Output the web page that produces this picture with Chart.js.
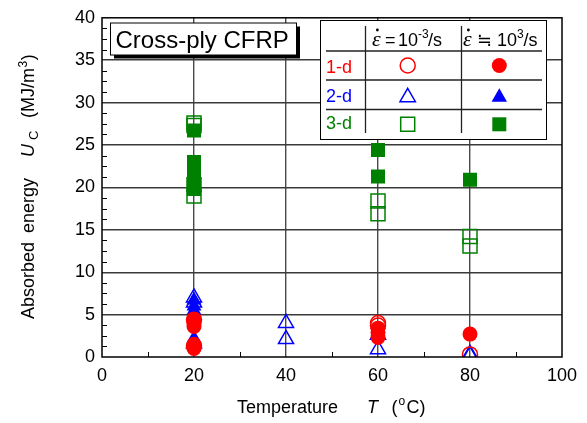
<!DOCTYPE html>
<html><head><meta charset="utf-8">
<style>html,body{margin:0;padding:0;background:#fff}#wrap{width:587px;height:423px}</style>
<script src="https://cdn.jsdelivr.net/npm/chart.js@4.4.1/dist/chart.umd.min.js"></script>
</head><body><div id="wrap"><canvas id="c" width="587" height="423"></canvas></div>
<script>
// ---- data (Temperature T in °C, absorbed energy U_C in MJ/m^3) ----
const xTickLabels = [0, 20, 40, 60, 80, 100];
const yTickLabels = [0, 5, 10, 15, 20, 25, 30, 35, 40];

const oneD_quasi_T = [20, 20, 60, 60, 80];
const oneD_quasi_U = [4.4, 1.3, 4.0, 3.7, 0.3];
const oneD_dyn_T = [20, 20, 20, 20, 20, 60, 60, 60, 80];
const oneD_dyn_U = [4.4, 4.0, 3.6, 1.5, 1.0, 3.4, 2.9, 2.3, 2.7];

const twoD_quasi_T = [20, 20, 20, 40, 40, 60, 60, 80, 80];
const twoD_quasi_U = [7.0, 6.4, 1.6, 4.0, 2.1, 2.6, 0.9, 0.2, 0.35];
const twoD_dyn_T = [20, 20, 20, 20, 20];
const twoD_dyn_U = [6.7, 6.0, 5.5, 5.0, 2.2];

const threeD_quasi_T = [20, 20, 20, 20, 60, 60, 80, 80];
const threeD_quasi_U = [27.6, 27.3, 19.0, 20.3, 18.4, 16.9, 14.2, 13.1];
const threeD_dyn_T = [20, 20, 20, 20, 20, 20, 60, 60, 80];
const threeD_dyn_U = [26.7, 23.0, 22.4, 21.6, 20.8, 19.8, 24.4, 21.3, 20.9];

const xMinor = [10, 30, 50, 70, 90];

const RED = '#ff0000', BLUE = '#0000ff', GREEN = '#008000';
const SANS = "'Liberation Sans', Arial, sans-serif";
const SERIF = "'Liberation Serif', 'DejaVu Serif', serif";

const pts = (T, U) => T.map((t, i) => ({x: t, y: U[i]}));

function ds(T, U, color, style, radius, filled) {
  return {
    data: pts(T, U),
    pointStyle: style,
    pointRadius: radius,
    pointHoverRadius: radius,
    pointBorderWidth: filled ? 0 : 1.5,
    borderColor: color,
    backgroundColor: filled ? color : 'rgba(0,0,0,0)',
    clip: 0
  };
}

// ---- marker drawing for the table legend ----
function mark(ctx, style, x, y, color, filled) {
  ctx.save();
  ctx.beginPath();
  if (style === 'circle') {
    ctx.arc(x, y, 7.5, 0, Math.PI * 2);
  } else if (style === 'triangle') {
    const r = 8.9;
    ctx.moveTo(x, y - r);
    ctx.lineTo(x + r * Math.sqrt(3) / 2, y + r / 2);
    ctx.lineTo(x - r * Math.sqrt(3) / 2, y + r / 2);
    ctx.closePath();
  } else {
    ctx.rect(x - 7, y - 7, 14, 14);
  }
  if (filled) { ctx.fillStyle = color; ctx.fill(); }
  else { ctx.strokeStyle = color; ctx.lineWidth = 1.5; ctx.stroke(); }
  ctx.restore();
}

function epsDot(ctx, x, base) {
  ctx.font = "italic 22px " + SERIF;
  ctx.fillText('\u03b5', x, base);
  const w = ctx.measureText('\u03b5').width;
  ctx.beginPath();
  ctx.arc(x + w * 0.62, base - 16, 1.4, 0, Math.PI * 2);
  ctx.fill();
}

const decor = {
  id: 'decor',
  afterDraw(chart) {
    const {ctx, chartArea: a, scales: {x, y}} = chart;
    ctx.save();
    // minor ticks
    ctx.strokeStyle = '#000'; ctx.lineWidth = 1;
    xMinor.forEach(v => {
      const px = Math.round(x.getPixelForValue(v)) + 0.5;
      ctx.beginPath(); ctx.moveTo(px, a.bottom); ctx.lineTo(px, a.bottom - 5); ctx.stroke();
    });
    for (let v = 1.25; v < 40; v += 1.25) {
      if (Math.abs(v % 5) < 1e-6) continue;
      const py = Math.round(y.getPixelForValue(v)) + 0.5;
      ctx.beginPath(); ctx.moveTo(a.left, py); ctx.lineTo(a.left + 5, py); ctx.stroke();
    }
    // frame
    ctx.lineWidth = 1.5; ctx.strokeStyle = '#000';
    ctx.strokeRect(a.left, a.top, a.right - a.left, a.bottom - a.top);

    // title box with shadow
    ctx.fillStyle = '#000';
    ctx.fillRect(114, 26.5, 186, 32);
    ctx.fillStyle = '#fff';
    ctx.fillRect(110.5, 23, 186, 32);
    ctx.lineWidth = 1; ctx.strokeStyle = '#000';
    ctx.strokeRect(110.5, 23, 186, 32);
    ctx.fillStyle = '#000';
    ctx.font = "24px " + SANS;
    ctx.textBaseline = 'alphabetic';
    ctx.fillText('Cross-ply CFRP', 115.5, 48);

    // table legend
    ctx.fillStyle = '#fff';
    ctx.fillRect(320.5, 20.5, 226, 119);
    ctx.lineWidth = 1; ctx.strokeStyle = '#000';
    ctx.strokeRect(320.5, 20.5, 226, 119);
    ctx.lineWidth = 1.3; ctx.strokeStyle = '#222';
    [51, 80, 109.5].forEach(ly => {
      ctx.beginPath(); ctx.moveTo(326, ly); ctx.lineTo(542, ly); ctx.stroke();
    });
    [365.5, 461.5].forEach(lx => {
      ctx.beginPath(); ctx.moveTo(lx, 26); ctx.lineTo(lx, 133); ctx.stroke();
    });
    // header
    ctx.fillStyle = '#000';
    epsDot(ctx, 372, 46);
    ctx.font = "18px " + SANS;
    ctx.fillText('=', 385, 46);
    ctx.fillText('10', 398, 46);
    ctx.font = "12px " + SANS;
    ctx.fillText('-3', 418, 38);
    ctx.font = "18px " + SANS;
    ctx.fillText('/s', 428, 46);
    epsDot(ctx, 463, 46);
    ctx.font = "18px 'DejaVu Sans', " + SANS;
    ctx.fillText('\u2252', 477, 46);
    ctx.font = "18px " + SANS;
    ctx.fillText('10', 497, 46);
    ctx.font = "12px " + SANS;
    ctx.fillText('3', 517, 38);
    ctx.font = "18px " + SANS;
    ctx.fillText('/s', 523.5, 46);
    // rows
    ctx.font = "18px " + SANS;
    ctx.fillStyle = RED; ctx.fillText('1-d', 326, 73);
    ctx.fillStyle = BLUE; ctx.fillText('2-d', 326, 101.5);
    ctx.fillStyle = GREEN; ctx.fillText('3-d', 326, 128.5);
    mark(ctx, 'circle', 407.7, 65.5, RED, false);
    mark(ctx, 'circle', 499.3, 65.5, RED, true);
    mark(ctx, 'triangle', 407.7, 97.2, BLUE, false);
    mark(ctx, 'triangle', 499.3, 97.2, BLUE, true);
    mark(ctx, 'rect', 407.7, 124.3, GREEN, false);
    mark(ctx, 'rect', 499.3, 124.3, GREEN, true);

    // x axis title
    ctx.fillStyle = '#000';
    ctx.font = "18px " + SANS;
    ctx.fillText('Temperature', 237, 413);
    ctx.font = "italic 18px " + SANS;
    ctx.fillText('T', 367, 413);
    ctx.font = "18px " + SANS;
    ctx.fillText('(', 391.5, 413);
    ctx.font = "12px " + SANS;
    ctx.fillText('o', 398.5, 405);
    ctx.font = "18px " + SANS;
    ctx.fillText('C)', 406.5, 413);

    // y axis title (rotated)
    ctx.save();
    ctx.translate(34, 0);
    ctx.rotate(-Math.PI / 2);
    ctx.font = "18px " + SANS;
    ctx.fillText('Absorbed', -319, 0);
    ctx.fillText('energy', -233, 0);
    ctx.font = "italic 18px " + SANS;
    ctx.fillText('U', -157, 0);
    ctx.font = "13px " + SANS;
    ctx.fillText('C', -140, 4);
    ctx.font = "18px " + SANS;
    ctx.fillText('(MJ/m', -118, 0);
    const wm = ctx.measureText('(MJ/m').width;
    ctx.font = "12px " + SANS;
    ctx.fillText('3', -118 + wm + 0.5, -7);
    const w3 = ctx.measureText('3').width;
    ctx.font = "18px " + SANS;
    ctx.fillText(')', -118 + wm + w3 + 1, 0);
    ctx.restore();

    ctx.restore();
  }
};

new Chart(document.getElementById('c'), {
  type: 'scatter',
  data: {
    datasets: [
      ds(threeD_dyn_T, threeD_dyn_U, GREEN, 'rect', 9.9, true),
      ds(threeD_quasi_T, threeD_quasi_U, GREEN, 'rect', 9.9, false),
      ds(oneD_dyn_T, oneD_dyn_U, RED, 'circle', 7.5, true),
      ds(oneD_quasi_T, oneD_quasi_U, RED, 'circle', 7.5, false),
      ds(twoD_dyn_T, twoD_dyn_U, BLUE, 'triangle', 8.7, true),
      ds(twoD_quasi_T, twoD_quasi_U, BLUE, 'triangle', 8.7, false)
    ]
  },
  options: {
    responsive: false,
    devicePixelRatio: 1,
    animation: false,
    events: [],
    layout: {padding: {top: 14.5, right: 25, left: 0, bottom: 0}},
    plugins: {legend: {display: false}, tooltip: {enabled: false}, title: {display: false}},
    scales: {
      x: {
        type: 'linear', min: 0, max: 100,
        afterBuildTicks: s => { s.ticks = xTickLabels.map(v => ({value: v})); },
        ticks: {color: '#000', font: {size: 18, family: SANS}, padding: 8, maxRotation: 0, autoSkip: false},
        grid: {
          color: c => (c.tick && (c.tick.value === 0 || c.tick.value === 100)) ? 'rgba(0,0,0,0)' : '#4a4a4a',
          lineWidth: 1.4, drawTicks: false
        },
        border: {display: false},
        afterFit: s => { s.height = 66; }
      },
      y: {
        type: 'linear', min: 0, max: 40,
        afterBuildTicks: s => { s.ticks = yTickLabels.map(v => ({value: v})); },
        ticks: {color: '#000', font: {size: 18, family: SANS}, padding: 7, autoSkip: false},
        grid: {
          color: c => (c.tick && (c.tick.value === 0 || c.tick.value === 40)) ? 'rgba(0,0,0,0)' : '#3a3a3a',
          lineWidth: 1.4, drawTicks: false
        },
        border: {display: false},
        afterFit: s => { s.width = 102; }
      }
    }
  },
  plugins: [decor]
});
</script>
</body></html>
